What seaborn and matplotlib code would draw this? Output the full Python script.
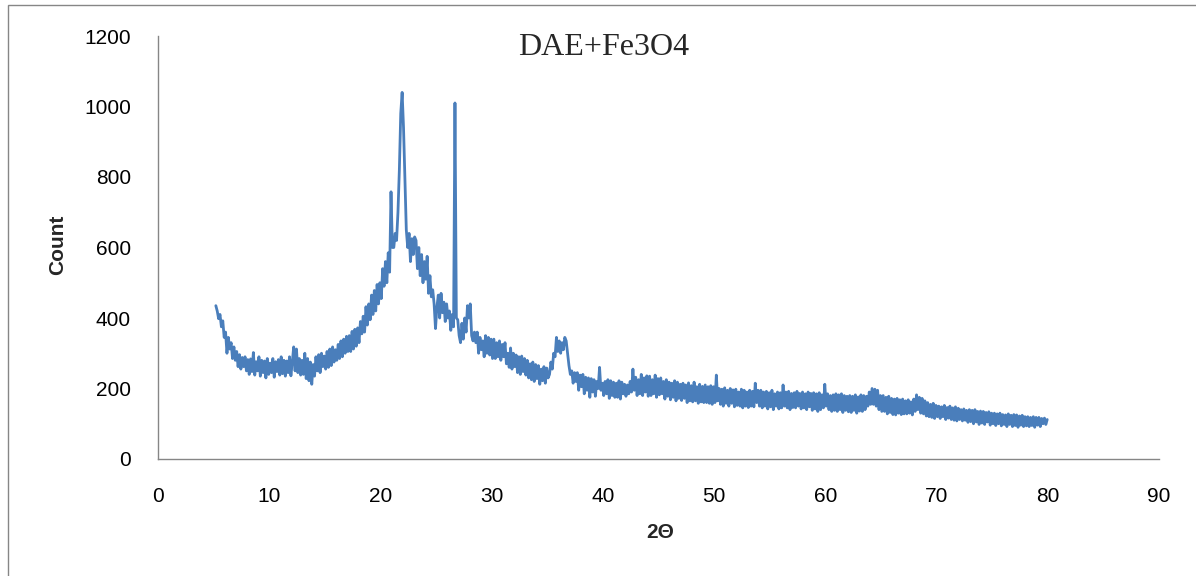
import numpy as np
import pandas as pd
import seaborn as sns
import matplotlib
matplotlib.use("Agg")
import matplotlib.pyplot as plt
from matplotlib.patches import Rectangle

# XRD scan, 0.125 deg steps from 5.2 to 79.95
# (each row below starts at the labelled angle and holds 8 readings)
two_theta = np.arange(5.2, 79.96, 0.125)
counts = [
    435, 420, 398, 410, 375, 392, 345, 360,     # 5.2
    300, 345, 312, 330, 285, 318, 280, 305,     # 6.2
    262, 296, 255, 288, 262, 290, 250, 282,     # 7.2
    240, 284, 248, 302, 238, 276, 250, 290,     # 8.2
    235, 280, 245, 278, 230, 285, 240, 272,     # 9.2
    245, 285, 232, 276, 248, 282, 238, 290,     # 10.2
    242, 280, 235, 278, 245, 290, 236, 275,     # 11.2
    318, 250, 312, 245, 285, 238, 280, 240,     # 12.2
    300, 228, 285, 222, 275, 212, 268, 235,     # 13.2
    290, 250, 296, 245, 300, 262, 292, 255,     # 14.2
    305, 260, 312, 265, 318, 275, 310, 280,     # 15.2
    325, 285, 335, 290, 340, 300, 348, 305,     # 16.2
    350, 305, 362, 312, 368, 320, 372, 330,     # 17.2
    390, 355, 405, 360, 432, 380, 440, 395,     # 18.2
    465, 410, 478, 420, 495, 440, 500, 455,     # 19.2
    540, 490, 560, 500, 585, 530, 758, 600,     # 20.2
    600, 640, 620, 700, 820, 980, 1040, 940,    # 21.2
    800, 650, 600, 640, 560, 625, 580, 630,     # 22.2
    620, 540, 600, 520, 580, 500, 560, 510,     # 23.2
    575, 470, 520, 460, 480, 440, 370, 430,     # 24.2
    465, 400, 470, 415, 445, 390, 440, 400,     # 25.2
    420, 365, 410, 375, 1010, 400, 395, 350,    # 26.2
    330, 385, 340, 400, 360, 435, 400, 440,     # 27.2
    350, 335, 360, 330, 360, 300, 345, 310,     # 28.2
    335, 290, 350, 300, 345, 295, 340, 285,     # 29.2
    340, 285, 330, 290, 335, 280, 325, 290,     # 30.2
    330, 270, 300, 260, 315, 255, 300, 262,     # 31.2
    295, 245, 290, 240, 292, 248, 285, 238,     # 32.2
    280, 230, 270, 225, 275, 220, 268, 228,     # 33.2
    265, 212, 255, 222, 262, 215, 258, 230,     # 34.2
    240, 275, 255, 300, 290, 345, 305, 335,     # 35.2
    300, 330, 310, 345, 335, 300, 265, 240,     # 36.2
    250, 215, 245, 220, 245, 195, 238, 205,     # 37.2
    240, 185, 232, 195, 230, 175, 228, 190,     # 38.2
    225, 178, 220, 200, 260, 195, 215, 180,     # 39.2
    220, 185, 225, 172, 222, 180, 218, 175,     # 40.2
    215, 175, 222, 170, 218, 185, 212, 178,     # 41.2
    210, 185, 220, 190, 255, 195, 232, 180,     # 42.2
    225, 185, 240, 180, 230, 190, 236, 178,     # 43.2
    235, 180, 225, 185, 238, 175, 228, 182,     # 44.2
    230, 185, 220, 170, 225, 178, 218, 168,     # 45.2
    215, 175, 222, 165, 218, 172, 212, 166,     # 46.2
    215, 172, 210, 160, 216, 165, 208, 162,     # 47.2
    218, 165, 205, 158, 212, 162, 206, 160,     # 48.2
    210, 160, 205, 158, 208, 155, 205, 160,     # 49.2
    238, 165, 200, 155, 198, 150, 202, 158,     # 50.2
    195, 150, 200, 158, 196, 148, 198, 152,     # 51.2
    190, 150, 198, 145, 195, 150, 190, 146,     # 52.2
    195, 150, 192, 148, 215, 160, 195, 150,     # 53.2
    195, 145, 190, 150, 192, 142, 188, 148,     # 54.2
    195, 140, 185, 150, 190, 142, 188, 145,     # 55.2
    210, 150, 190, 145, 192, 140, 186, 146,     # 56.2
    188, 145, 192, 150, 186, 142, 190, 145,     # 57.2
    185, 140, 190, 148, 186, 138, 188, 142,     # 58.2
    185, 135, 188, 140, 182, 145, 212, 150,     # 59.2
    185, 140, 180, 135, 182, 138, 185, 135,     # 60.2
    182, 140, 185, 132, 180, 138, 178, 134,     # 61.2
    180, 132, 178, 138, 182, 130, 176, 136,     # 62.2
    182, 135, 180, 140, 178, 150, 190, 155,     # 63.2
    200, 155, 198, 150, 195, 140, 180, 135,     # 64.2
    180, 135, 175, 128, 178, 132, 172, 126,     # 65.2
    170, 125, 172, 130, 168, 126, 170, 128,     # 66.2
    165, 128, 168, 130, 162, 125, 170, 135,     # 67.2
    182, 140, 175, 130, 172, 128, 165, 122,     # 68.2
    160, 120, 155, 118, 158, 115, 152, 120,     # 69.2
    150, 115, 148, 120, 152, 112, 146, 116,     # 70.2
    150, 112, 145, 110, 148, 108, 144, 112,     # 71.2
    140, 108, 142, 110, 138, 104, 140, 106,     # 72.2
    138, 100, 140, 105, 135, 98, 136, 102,      # 73.2
    135, 98, 132, 105, 134, 96, 130, 100,       # 74.2
    130, 95, 128, 100, 130, 94, 126, 98,        # 75.2
    125, 92, 128, 98, 124, 92, 126, 95,         # 76.2
    125, 90, 122, 96, 124, 92, 120, 94,         # 77.2
    120, 92, 118, 95, 120, 90, 118, 96,         # 78.2
    118, 92, 115, 100, 116, 98, 112,            # 79.2
]
x_ticks = list(range(0, 91, 10))
y_ticks = list(range(0, 1201, 200))
title = "DAE+Fe3O4"

df = pd.DataFrame({"two_theta": two_theta, "count": counts})

sns.set_style("white")
plt.rcParams["font.family"] = ["Liberation Sans", "DejaVu Sans"]

axis_grey = "#868686"
fig = plt.figure(figsize=(11.96, 5.76), dpi=100)
ax = fig.add_axes([158 / 1196, 1 - 459 / 576, 1001 / 1196, 423 / 576])

sns.lineplot(data=df, x="two_theta", y="count", ax=ax, color="#4a7ebb",
             linewidth=2.0, errorbar=None)

ax.set_xlim(0, 90)
ax.set_ylim(0, 1200)
ax.set_xticks(x_ticks)
ax.set_yticks(y_ticks)
ax.tick_params(axis="both", direction="out", length=5.5, width=1,
               color=axis_grey, labelsize=15, labelcolor="black")
ax.tick_params(axis="x", pad=15)
ax.tick_params(axis="y", pad=14)
for s in ["top", "right"]:
    ax.spines[s].set_visible(False)
for s in ["left", "bottom"]:
    ax.spines[s].set_color(axis_grey)
    ax.spines[s].set_linewidth(1)
ax.set_xlabel("")
ax.set_ylabel("")

# axis titles and chart title sit where the reference has them
fig.text(660 / 1196, 1 - 533 / 576, "2Θ", ha="center", va="center",
         fontsize=15, fontweight="bold")
fig.text(58 / 1196, 1 - 245 / 576, "Count", ha="center", va="center",
         rotation=90, fontsize=15, fontweight="bold")
fig.text(604 / 1196, 1 - 55 / 576, title, ha="center", va="baseline",
         fontsize=23, family=["Liberation Serif", "DejaVu Serif"])

# outer chart frame
fig.add_artist(Rectangle((8 / 1196, -0.1), 1.2, 1.1 - 5 / 576,
                         transform=fig.transFigure, fill=False,
                         edgecolor=axis_grey, linewidth=1))

fig.savefig("out.png", dpi=100)
